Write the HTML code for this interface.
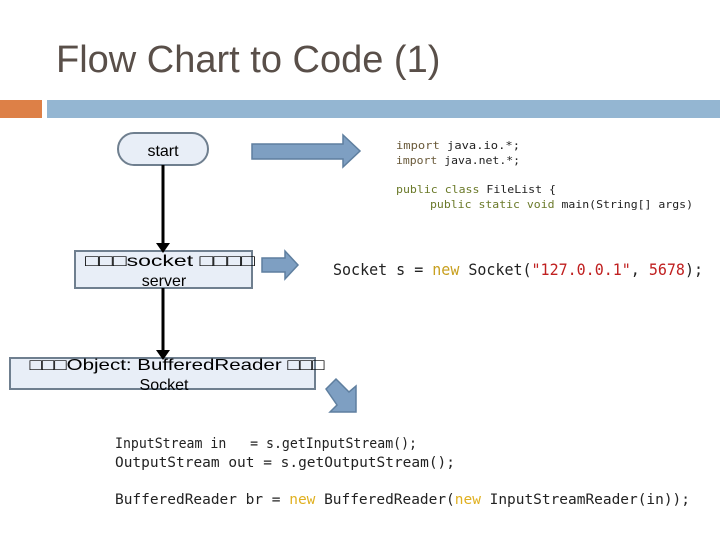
<!DOCTYPE html>
<html><head><meta charset="utf-8"><style>body{margin:0;background:#fff}svg{display:block}text{white-space:pre}</style></head>
<body>
<svg width="720" height="540" viewBox="0 0 720 540" xmlns="http://www.w3.org/2000/svg">
<text x="56" y="72" font-family="Liberation Sans, sans-serif" font-size="38" fill="#594f49">Flow Chart to Code (1)</text>
<rect x="0" y="100" width="42" height="18" fill="#dd8047"/>
<rect x="47" y="100" width="673" height="18" fill="#94b6d2"/>
<g font-family="Liberation Sans, sans-serif" font-size="16" fill="#000" text-anchor="middle">
<rect x="118" y="133" width="90" height="32" rx="16" fill="#e8eef7" stroke="#6f7f8f" stroke-width="2"/>
<text x="163" y="156">start</text>
<rect x="75" y="251" width="177" height="37" fill="#e8eef7" stroke="#6f7f8f" stroke-width="2"/>
<text x="170" y="266" textLength="170" lengthAdjust="spacingAndGlyphs">□□□socket □□□□</text>
<text x="164" y="286">server</text>
<rect x="10" y="358" width="305" height="31" fill="#e8eef7" stroke="#6f7f8f" stroke-width="2"/>
<text x="177" y="370" textLength="295" lengthAdjust="spacingAndGlyphs">□□□Object: BufferedReader □□□</text>
<text x="164" y="390">Socket</text>
</g>
<line x1="163" y1="165" x2="163" y2="245" stroke="#000" stroke-width="3"/>
<polygon points="156,243 170,243 163,253" fill="#000"/>
<line x1="163" y1="288" x2="163" y2="352" stroke="#000" stroke-width="3"/>
<polygon points="156,350 170,350 163,360" fill="#000"/>
<g fill="#7e9fc2" stroke="#5f7f9f" stroke-width="1.5">
<polygon points="252,144 343,144 343,135 360,151 343,167 343,159 252,159"/>
<polygon points="262,258 285,258 285,251 298,265 285,279 285,272 262,272"/>
<polygon points="326,389 336,379 349,392 356,386 356,412 330,412 337,405"/>
</g>
<g font-family="DejaVu Sans Mono, Liberation Mono, monospace" font-size="11" fill="#222" xml:space="preserve">
<text x="396" y="149" textLength="124" lengthAdjust="spacingAndGlyphs"><tspan fill="#6a5a3a">import</tspan> java.io.*;</text>
<text x="396" y="164" textLength="124" lengthAdjust="spacingAndGlyphs"><tspan fill="#6a5a3a">import</tspan> java.net.*;</text>
<text x="396" y="193" textLength="160" lengthAdjust="spacingAndGlyphs"><tspan fill="#6b7a2a">public class</tspan> FileList {</text>
<text x="430" y="208" textLength="263" lengthAdjust="spacingAndGlyphs"><tspan fill="#6b7a2a">public static void</tspan> main(String[] args)</text>
</g>
<g font-family="DejaVu Sans Mono, Liberation Mono, monospace" font-size="16" fill="#222" xml:space="preserve">
<text x="333" y="275" textLength="370" lengthAdjust="spacingAndGlyphs">Socket s = <tspan fill="#c8a020">new</tspan> Socket(<tspan fill="#c02020">"127.0.0.1"</tspan>, <tspan fill="#c02020">5678</tspan>);</text>
</g>
<g font-family="DejaVu Sans Mono, Liberation Mono, monospace" font-size="14" fill="#222" xml:space="preserve">
<text x="115" y="448" textLength="302" lengthAdjust="spacingAndGlyphs" xml:space="preserve">InputStream in   = s.getInputStream();</text>
<text x="115" y="467" textLength="340" lengthAdjust="spacingAndGlyphs">OutputStream out = s.getOutputStream();</text>
<text x="115" y="504" textLength="575" lengthAdjust="spacingAndGlyphs">BufferedReader br = <tspan fill="#e0b020">new</tspan> BufferedReader(<tspan fill="#e0b020">new</tspan> InputStreamReader(in));</text>
</g>
</svg>
</body></html>
